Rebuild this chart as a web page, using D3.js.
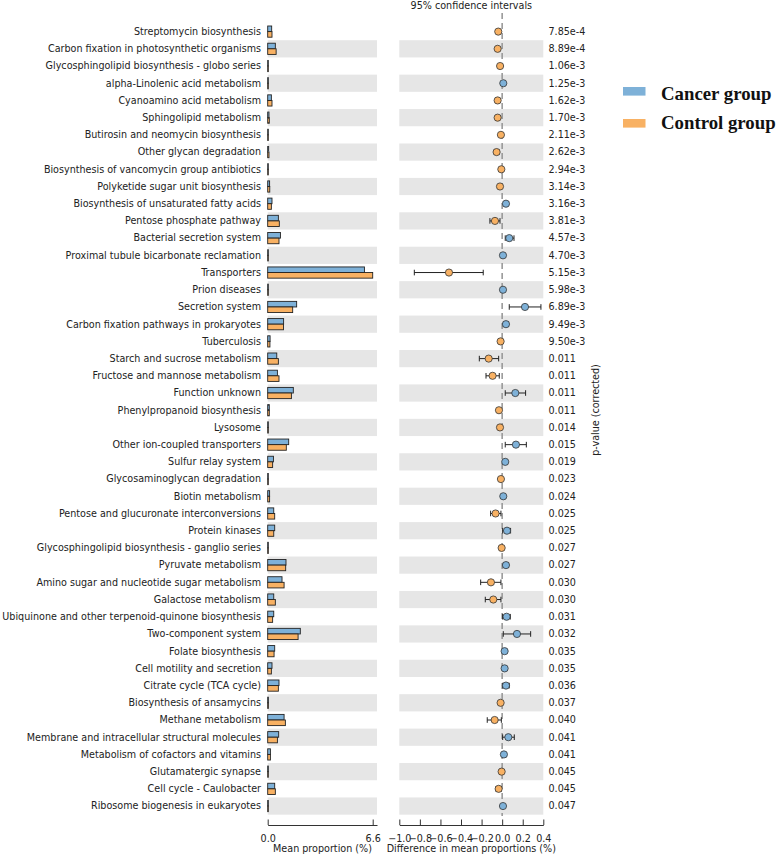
<!DOCTYPE html>
<html><head><meta charset="utf-8">
<script src="https://cdn.jsdelivr.net/npm/d3@7"></script>
<style>
html,body{margin:0;padding:0;background:#fff;}
svg text{font-family:"DejaVu Sans",sans-serif;}
svg text.legend{font-family:"Liberation Serif","Times New Roman",serif;font-weight:bold;}
</style></head>
<body><svg id="chart" width="778" height="856"></svg>
<script>
const categories = ["Streptomycin biosynthesis","Carbon fixation in photosynthetic organisms","Glycosphingolipid biosynthesis - globo series","alpha-Linolenic acid metabolism","Cyanoamino acid metabolism","Sphingolipid metabolism","Butirosin and neomycin biosynthesis","Other glycan degradation","Biosynthesis of vancomycin group antibiotics","Polyketide sugar unit biosynthesis","Biosynthesis of unsaturated fatty acids","Pentose phosphate pathway","Bacterial secretion system","Proximal tubule bicarbonate reclamation","Transporters","Prion diseases","Secretion system","Carbon fixation pathways in prokaryotes","Tuberculosis","Starch and sucrose metabolism","Fructose and mannose metabolism","Function unknown","Phenylpropanoid biosynthesis","Lysosome","Other ion-coupled transporters","Sulfur relay system","Glycosaminoglycan degradation","Biotin metabolism","Pentose and glucuronate interconversions","Protein kinases","Glycosphingolipid biosynthesis - ganglio series","Pyruvate metabolism","Amino sugar and nucleotide sugar metabolism","Galactose metabolism","Ubiquinone and other terpenoid-quinone biosynthesis","Two-component system","Folate biosynthesis","Cell motility and secretion","Citrate cycle (TCA cycle)","Biosynthesis of ansamycins","Methane metabolism","Membrane and intracellular structural molecules","Metabolism of cofactors and vitamins","Glutamatergic synapse","Cell cycle - Caulobacter","Ribosome biogenesis in eukaryotes"];
const pValues = ["7.85e-4","8.89e-4","1.06e-3","1.25e-3","1.62e-3","1.70e-3","2.11e-3","2.62e-3","2.94e-3","3.14e-3","3.16e-3","3.81e-3","4.57e-3","4.70e-3","5.15e-3","5.98e-3","6.89e-3","9.49e-3","9.50e-3","0.011","0.011","0.011","0.011","0.014","0.015","0.019","0.023","0.024","0.025","0.025","0.027","0.027","0.030","0.030","0.031","0.032","0.035","0.035","0.036","0.037","0.040","0.041","0.041","0.045","0.045","0.047"];
const cancerMean = [0.25,0.48,0.02,0.02,0.23,0.08,0.03,0.06,0.02,0.12,0.27,0.67,0.80,0.02,6.08,0.02,1.82,1.00,0.15,0.57,0.61,1.61,0.10,0.03,1.32,0.36,0.02,0.12,0.38,0.44,0.02,1.15,0.90,0.38,0.38,2.05,0.44,0.27,0.71,0.04,1.03,0.69,0.17,0.03,0.44,0.02];
const controlMean = [0.27,0.53,0.02,0.02,0.27,0.10,0.03,0.08,0.02,0.13,0.23,0.73,0.71,0.02,6.60,0.02,1.57,0.99,0.14,0.67,0.71,1.49,0.10,0.03,1.17,0.31,0.02,0.12,0.44,0.38,0.02,1.13,1.03,0.48,0.31,1.91,0.40,0.23,0.67,0.04,1.11,0.61,0.17,0.03,0.48,0.02];
const diffMean = [-0.038,-0.044,-0.02,0.011,-0.044,-0.044,-0.012,-0.054,-0.008,-0.021,0.037,-0.07,0.069,0.008,-0.517,0.008,0.222,0.037,-0.015,-0.131,-0.093,0.128,-0.031,-0.021,0.134,0.03,-0.012,0.011,-0.064,0.047,-0.005,0.037,-0.109,-0.086,0.043,0.144,0.024,0.024,0.037,-0.015,-0.073,0.06,0.017,-0.005,-0.034,0.008];
const ciLow = [-0.05,-0.058,-0.03,0.002,-0.058,-0.058,-0.02,-0.076,-0.016,-0.032,0.024,-0.119,0.03,0.001,-0.854,0.001,0.069,0.012,-0.025,-0.222,-0.157,0.03,-0.045,-0.032,0.03,0.012,-0.02,0.003,-0.112,0.005,-0.01,0.012,-0.209,-0.164,0.005,0.011,0.01,0.01,0.005,-0.025,-0.145,0.005,0.005,-0.01,-0.06,0.001];
const ciHigh = [-0.026,-0.03,-0.01,0.02,-0.03,-0.03,-0.004,-0.031,-0.001,-0.01,0.05,-0.021,0.115,0.015,-0.184,0.015,0.377,0.062,-0.005,-0.034,-0.028,0.228,-0.017,-0.01,0.235,0.048,-0.004,0.02,-0.012,0.082,-0.001,0.062,-0.012,-0.012,0.079,0.277,0.038,0.038,0.069,-0.005,-0.008,0.118,0.03,-0.001,-0.008,0.015];
const groups = ["Cancer group","Control group"];
const leftTicks = [0.0, 6.6];
const rightTicks = [-1.0,-0.8,-0.6,-0.4,-0.2,0.0,0.2,0.4];

const colors = {"Cancer group":"#7eb1d8","Control group":"#f8b163"};
const svg = d3.select("#chart");
const fs = "9.6px";

const y = d3.scaleBand().domain(categories).range([23, 23 + 46*17.21]).padding(0);
const xL = d3.scaleLinear().domain([0, 6.6*109.3/105]).range([267.7, 377]);
const xR = d3.scaleLinear().domain([-1.0, 0.4]).range([399.3, 543.3]);

// background bands
categories.forEach((c,i)=>{
  if(i%2===1){
    svg.append("rect").attr("x",xL.range()[0]).attr("y",y(c)).attr("width",xL.range()[1]-xL.range()[0]).attr("height",y.bandwidth()).attr("fill","#e6e6e6");
    svg.append("rect").attr("x",xR.range()[0]).attr("y",y(c)).attr("width",xR.range()[1]-xR.range()[0]).attr("height",y.bandwidth()).attr("fill","#e6e6e6");
  }
});

// labels
svg.append("g").selectAll("text").data(categories).join("text")
  .attr("x",261).attr("y",d=>y(d)+y.bandwidth()/2).attr("dy","0.35em")
  .attr("text-anchor","end").attr("font-size",fs).attr("fill","#222").text(d=>d);

// bars
const bh = 5.6;
svg.append("g").selectAll("rect").data(categories).join("rect")
  .attr("x",xL(0)).attr("y",d=>y(d)+y.bandwidth()/2-bh)
  .attr("width",(d,i)=>Math.max(0.6,xL(cancerMean[i])-xL(0))).attr("height",bh)
  .attr("fill",colors["Cancer group"]).attr("stroke","#222").attr("stroke-width",0.9);
svg.append("g").selectAll("rect").data(categories).join("rect")
  .attr("x",xL(0)).attr("y",d=>y(d)+y.bandwidth()/2)
  .attr("width",(d,i)=>Math.max(0.6,xL(controlMean[i])-xL(0))).attr("height",bh)
  .attr("fill",colors["Control group"]).attr("stroke","#222").attr("stroke-width",0.9);

// zero line
svg.append("line").attr("x1",xR(0)).attr("x2",xR(0)).attr("y1",13).attr("y2",816)
  .attr("stroke","#9a9a9a").attr("stroke-width",1.6).attr("stroke-dasharray","6,4");

// error bars
const eg = svg.append("g");
categories.forEach((c,i)=>{
  const cy = y(c)+y.bandwidth()/2;
  eg.append("line").attr("x1",xR(ciLow[i])).attr("x2",xR(ciHigh[i])).attr("y1",cy).attr("y2",cy).attr("stroke","#222").attr("stroke-width",1);
  [ciLow[i],ciHigh[i]].forEach(v=>{
    eg.append("line").attr("x1",xR(v)).attr("x2",xR(v)).attr("y1",cy-2.8).attr("y2",cy+2.8).attr("stroke","#222").attr("stroke-width",1);
  });
});
svg.append("g").selectAll("circle").data(categories).join("circle")
  .attr("cx",(d,i)=>xR(diffMean[i])).attr("cy",d=>y(d)+y.bandwidth()/2).attr("r",3.6)
  .attr("fill",(d,i)=>diffMean[i]>0?colors["Cancer group"]:colors["Control group"])
  .attr("stroke","#333").attr("stroke-width",0.8);

// p values
svg.append("g").selectAll("text").data(pValues).join("text")
  .attr("x",548.5).attr("y",(d,i)=>y(categories[i])+y.bandwidth()/2).attr("dy","0.35em")
  .attr("font-size",fs).attr("fill","#222").text(d=>d);

// axes
const axY = 825;
const gL = svg.append("g").attr("transform",`translate(0,${axY})`)
  .call(d3.axisBottom(xL).tickValues(leftTicks).tickFormat(d3.format(".1f")).tickSizeInner(-5.5).tickSizeOuter(0).tickPadding(10));
const gR = svg.append("g").attr("transform",`translate(0,${axY})`)
  .call(d3.axisBottom(xR).tickValues(rightTicks).tickFormat(d3.format(".1f")).tickSizeInner(-5.5).tickSizeOuter(0).tickPadding(10));
[gL,gR].forEach(g=>{
  g.selectAll("text").attr("font-size",fs).attr("fill","#222").attr("font-family","DejaVu Sans");
  g.selectAll("line,path").attr("stroke","#333");
});

svg.append("text").attr("x",322.5).attr("y",852).attr("text-anchor","middle").attr("font-size",fs).attr("fill","#222").text("Mean proportion (%)");
svg.append("text").attr("x",471.3).attr("y",852).attr("text-anchor","middle").attr("font-size",fs).attr("fill","#222").text("Difference in mean proportions (%)");
svg.append("text").attr("x",471.3).attr("y",9).attr("text-anchor","middle").attr("font-size",fs).attr("fill","#222").text("95% confidence intervals");
svg.append("text").attr("transform","translate(596,410) rotate(-90)").attr("dy","0.35em").attr("text-anchor","middle").attr("font-size",fs).attr("fill","#222").text("p-value (corrected)");

// legend
groups.forEach((g,i)=>{
  svg.append("rect").attr("x",623).attr("y",87+i*32).attr("width",22.5).attr("height",8.6).attr("fill",colors[g]);
  svg.append("text").attr("class","legend").attr("x",661).attr("y",100+i*29).attr("font-size","18.8px").attr("fill","#111").text(g);
});
</script></body></html>
